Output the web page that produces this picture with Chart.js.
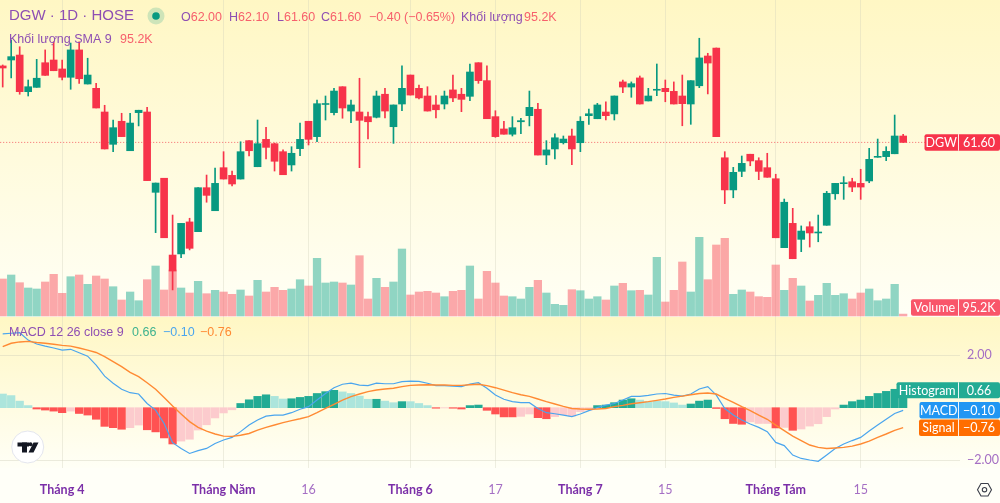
<!DOCTYPE html>
<html>
<head>
<meta charset="utf-8">
<style>html,body{margin:0;padding:0;background:#fffff8}canvas{display:block}</style>
<script src="https://cdn.jsdelivr.net/npm/chart.js@4"></script>
</head>
<body>
<canvas id="c" width="1000" height="503" style="width:1000px;height:503px"></canvas>
<script>
const opens=[66.38,66.75,67.06,64.77,65.04,66.58,66.75,66.19,65.67,67.38,65.25,64.98,63.5,61.48,62.92,61.08,63.46,63.5,58.48,59.36,54.56,54.63,56.63,56.02,58.77,57.33,60.02,59.54,59.31,61.71,60.08,61.79,61.52,61.02,60.19,61.21,62.92,61.96,63.97,63.46,65.08,63.56,63.5,63.21,63.17,64.61,62.58,64,65.81,64.98,64.5,63.94,64,64.88,64.61,64.48,66.58,65.46,63.21,62.44,62.11,62.89,63.27,63.67,60.81,61.19,61.58,62,61.58,63.27,63.08,63.5,63.38,65.38,65.06,65.63,64.19,64.86,64.98,64.79,64.5,64,65.14,67,67.5,60.64,58.63,59.79,60.86,60.46,60.02,59.33,55.02,56.54,55.54,56.33,55.94,56.42,58.39,59.02,59.14,59.04,59.19,60.67,60.71,60.89,62];
const highs=[66.44,68,67.58,65.5,66.79,67.38,67.89,66.75,67.81,67.88,66.86,65.29,63.92,63,63.42,63.42,63.61,63.79,59.06,59.36,57.06,56.54,56.86,58.77,59.56,60,61.02,59.81,61.64,61.71,63,62.54,61.56,61.13,61.33,62.81,62.92,64.25,64.5,64.98,65.08,64.25,65.61,63.5,64.81,64.98,63.94,66.39,65.81,65.19,65.08,64.52,64.81,65.81,64.98,66.5,66.58,66.39,63.58,62.92,63.21,63.11,64.81,64.04,61.71,62.14,62,62.44,63.21,63.69,64.04,64.13,64.5,65.5,65.38,65.75,64.98,66.5,65.5,65.38,65.81,65.46,68.11,67.17,67.5,61.02,60.04,60.75,60.86,60.64,60.92,59.61,58.06,57.48,56.38,56.64,57.06,58.54,59.04,59.46,59.36,59.92,61.23,61.81,61.33,63.31,62.1];
const lows=[65.06,65.63,64.61,64.5,65.04,65.79,66.08,65.5,64.92,65.29,65.25,63.75,61.19,61.02,61.96,61.08,62.63,59.21,55.96,55.64,52.38,54.39,54.88,56.02,57.86,57.33,59.31,58.88,59.31,60.75,60.08,60.56,59.81,59.58,59.81,60.77,61.44,61.64,63,63.31,63.11,62.83,60.02,61.81,63.13,63.13,61.54,63.58,64.56,64.31,63.56,63.13,63.69,64.14,63.52,64.21,65.29,63.08,61.92,62.11,62,62.14,62.63,60.81,60.21,60.56,61.5,60.21,61.02,62.73,63.08,63,63,64.71,64.42,64,64.19,64.52,64.14,64,62.64,62.73,65.02,64.63,61.96,57.77,58.14,59.46,60.14,59.27,59.42,55.64,55.02,54.33,54.77,55.06,55.39,56.42,58.04,58.04,58.52,58.04,59.08,60.67,60.46,60.89,61.6];
const closes=[66.25,66.96,64.77,65.08,65.61,65.79,66.08,65.67,67.38,65.58,65.81,63.75,61.19,62.52,61.96,62.81,63.61,59.21,59.06,55.64,53.56,56.54,54.98,58.77,58.29,59.04,59.31,59,61.02,61.08,61.52,61.29,60.42,59.58,60.92,61.79,61.79,64.02,64.03,64.81,63.75,63.94,62.98,62.89,64.5,63.56,63.94,64.98,64.56,64.38,63.56,63.64,64.5,64.38,64.29,66,65.46,63.08,61.96,62.11,62.52,62.96,63.79,60.81,61.13,61.89,61.81,61.19,62.92,63.39,63.94,63.27,64.5,65.06,65.27,64,64.5,64.92,64.77,64,64.02,65.46,66.88,66.56,61.96,58.63,59.73,60.29,60.44,59.79,59.42,55.64,57.86,54.33,56.06,55.94,56,58.42,59.04,59.08,58.81,58.81,60.54,60.73,61.04,62,61.6];
const volumesK=[1850,2050,1665,1400,1350,1700,2085,1135,1965,2050,1585,2000,1850,1465,800,1200,765,1815,2500,1300,2300,1400,1150,1735,1115,1285,1200,1085,1300,1000,1785,1200,1435,1285,1350,1815,1500,2885,1650,1700,1650,1550,3015,850,1885,1435,1700,3350,1050,1200,1235,1150,965,1235,1285,2500,850,2235,1650,1000,965,850,1435,1785,1150,585,535,1315,1265,850,965,800,1500,1635,1265,1285,1050,2935,700,1285,2700,1200,3935,1815,3550,3885,1085,1300,1200,965,935,2550,1285,1885,1500,750,1035,1635,1035,1115,850,1150,1350,765,850,1585,95.2];
const macdLine=[2.81,2.83,2.85,2.57,2.42,2.34,2.27,2.19,2.22,2.09,1.96,1.62,1.20,0.93,0.70,0.57,0.52,0.16,-0.09,-0.60,-1.33,-1.55,-1.74,-1.63,-1.55,-1.36,-1.23,-1.13,-0.91,-0.66,-0.47,-0.32,-0.28,-0.28,-0.19,-0.06,0.04,0.29,0.54,0.76,0.89,0.93,0.86,0.84,0.93,0.91,0.91,0.99,1.01,1.00,0.93,0.84,0.84,0.82,0.80,0.90,0.95,0.74,0.48,0.32,0.23,0.19,0.19,-0.03,-0.19,-0.23,-0.28,-0.34,-0.24,-0.11,0,0.10,0.16,0.29,0.43,0.43,0.47,0.52,0.54,0.48,0.44,0.52,0.71,0.80,0.48,-0.03,-0.28,-0.47,-0.62,-0.75,-0.91,-1.32,-1.44,-1.80,-1.93,-1.99,-2.04,-1.80,-1.55,-1.38,-1.25,-1.13,-0.89,-0.66,-0.44,-0.22,-0.10];
const signalLine=[2.32,2.45,2.50,2.52,2.48,2.45,2.41,2.37,2.34,2.27,2.19,2.10,1.94,1.75,1.56,1.34,1.18,0.95,0.70,0.39,0.06,-0.24,-0.53,-0.75,-0.89,-1.00,-1.08,-1.09,-1.05,-0.98,-0.85,-0.75,-0.66,-0.57,-0.49,-0.42,-0.34,-0.19,-0.03,0.13,0.29,0.42,0.52,0.61,0.67,0.71,0.74,0.80,0.85,0.86,0.87,0.86,0.86,0.85,0.85,0.87,0.89,0.84,0.76,0.67,0.57,0.49,0.43,0.33,0.23,0.14,0.05,-0.03,-0.05,-0.06,-0.05,-0.03,0.04,0.09,0.15,0.19,0.23,0.28,0.33,0.39,0.44,0.49,0.54,0.56,0.52,0.35,0.20,0.04,-0.11,-0.28,-0.44,-0.66,-0.87,-1.08,-1.25,-1.42,-1.51,-1.55,-1.53,-1.51,-1.46,-1.38,-1.27,-1.13,-1.00,-0.86,-0.76];
const histogram=[0.52,0.46,0.25,0.08,-0.05,-0.09,-0.13,-0.19,-0.13,-0.22,-0.28,-0.44,-0.71,-0.76,-0.82,-0.76,-0.66,-0.84,-0.92,-1.15,-1.38,-1.27,-1.20,-0.85,-0.65,-0.39,-0.20,-0.08,0.16,0.30,0.43,0.49,0.43,0.33,0.34,0.39,0.43,0.54,0.61,0.66,0.60,0.54,0.44,0.32,0.32,0.25,0.19,0.23,0.23,0.16,0.08,-0.02,-0.01,-0.02,-0.05,0.08,0.10,-0.10,-0.24,-0.35,-0.35,-0.33,-0.24,-0.38,-0.42,-0.34,-0.27,-0.32,-0.15,-0.09,0.08,0.10,0.19,0.29,0.34,0.29,0.23,0.25,0.23,0.18,0.10,0.14,0.25,0.29,-0.03,-0.42,-0.60,-0.63,-0.54,-0.60,-0.60,-0.77,-0.75,-0.86,-0.81,-0.70,-0.61,-0.34,-0.05,0.10,0.23,0.29,0.43,0.54,0.62,0.70,0.66];
const histTones=["L","L","L","L","R","R","R","R","P","R","R","R","R","R","R","P","P","R","R","R","R","P","P","P","P","P","P","P","D","D","D","D","L","L","D","D","D","D","D","D","L","L","L","L","D","L","L","D","L","L","L","R","P","R","R","D","D","R","R","R","R","P","P","R","R","P","P","P","P","P","D","D","D","D","D","L","L","L","L","L","L","D","D","D","R","R","R","R","P","P","P","R","P","R","P","P","P","P","P","D","D","D","D","D","D","D","D"];
const tickIndex=[7,26,36,48,58,68,78,91,101];
const tickLabels=["Tháng 4","Tháng Năm","16","Tháng 6","17","Tháng 7","15","Tháng Tám","15"];
const macdTicks=[-2,2];

const RED="#f7334a",GREEN="#089981";
const VOL_RED="rgba(247,82,95,0.5)",VOL_GREEN="rgba(34,171,148,0.5)";
const TONE={L:"#ace5dc",D:"#22ab94",R:"#ff5252",P:"#fccbcd"};
const PURPLE="#8e4fb3",SALMON="#f7606c";
const SANS='"Liberation Sans",Arial,sans-serif',TICK='Lato,"Noto Sans",sans-serif';

const isUp=i=>closes[i]>=opens[i];
const bodyData=opens.map((o,i)=>({x:i,y:[o,closes[i]]}));
const wickData=lows.map((l,i)=>({x:i,y:[l,highs[i]]}));
const volData=volumesK.map((v,i)=>({x:i,y:v}));
const histData=histogram.map((v,i)=>({x:i,y:v}));
const macdData=macdLine.map((v,i)=>({x:i,y:v}));
const sigData=signalLine.map((v,i)=>({x:i,y:v}));
const candleColors=opens.map((o,i)=>isUp(i)?GREEN:RED);
const lastClose=closes[closes.length-1];

function tag(ctx,left,mid,cy,h,color,a,b){
  const right=1000;
  ctx.fillStyle=color;
  ctx.beginPath();ctx.roundRect(left,cy-h/2,right-left,h,2);ctx.fill();
  ctx.fillStyle="rgba(255,255,255,0.9)";ctx.fillRect(mid,cy-h/2,1,h);
  ctx.fillStyle="#fff";ctx.font='12.5px '+TICK;ctx.textAlign="center";ctx.textBaseline="middle";
  ctx.fillText(a,(left+mid)/2,cy+0.5);ctx.fillText(b,(mid+right)/2,cy+0.5);
}
function txt(ctx,s,x,y,color,font){ctx.fillStyle=color;ctx.font=font;ctx.textAlign="left";ctx.textBaseline="middle";ctx.fillText(s,x,y);}

const paint={id:"paint",
 beforeDraw(ch){
  const c=ch.ctx;
  const panes=[[0,317],[317,468]];
  c.fillStyle="#fffff8";c.fillRect(0,0,1000,503);
  panes.forEach(([a,b])=>{const g=c.createLinearGradient(0,a,0,b);g.addColorStop(0,"#fff7c4");g.addColorStop(1,"#fffff6");c.fillStyle=g;c.fillRect(0,a,1000,b-a);});
 },
 afterDraw(ch){
  const c=ch.ctx;c.save();
  const F13='12.5px '+SANS;
  txt(c,"DGW · 1D · HOSE",9,16,PURPLE,'15px '+SANS);
  c.fillStyle="rgba(8,153,129,0.2)";c.beginPath();c.arc(156,16,8.5,0,7);c.fill();
  c.fillStyle=GREEN;c.beginPath();c.arc(156,16,3.8,0,7);c.fill();
  const o=opens.at(-1),h=highs.at(-1),l=lows.at(-1);
  [["O",181,o],["H",229,h],["L",277,l],["C",321,lastClose]].forEach(([k,x,v])=>{
    txt(c,k,x,18,PURPLE,F13);txt(c,v.toFixed(2),x+c.measureText(k).width,18,SALMON,F13);});
  txt(c,"−0.40",369,18,SALMON,F13);txt(c,"(−0.65%)",404,18,SALMON,F13);
  txt(c,"Khối lượng",461,18,PURPLE,F13);txt(c,"95.2K",524,18,SALMON,F13);
  txt(c,"Khối lượng SMA 9",9,40,PURPLE,F13);txt(c,"95.2K",120,40,SALMON,F13);
  txt(c,"MACD 12 26 close 9",9,333,PURPLE,F13);
  txt(c,"0.66",132,333,"#3fb28f",F13);txt(c,"−0.10",163,333,"#4aa5ee",F13);txt(c,"−0.76",200,333,"#ff8a33",F13);

  const sp=ch.scales.yPrice,sv=ch.scales.yVol,sm=ch.scales.yMacd;
  tag(c,924.5,958,sp.getPixelForValue(lastClose),16.5,RED,"DGW",lastClose.toFixed(2));
  tag(c,911,958,sv.getPixelForValue(0)-8.4,16.5,"#f9566a","Volume","95.2K");
  const hy=sm.getPixelForValue(histogram.at(-1)),my=sm.getPixelForValue(macdLine.at(-1)),gy=sm.getPixelForValue(signalLine.at(-1));
  tag(c,896.5,958,hy,16,"#22ab94","Histogram","0.66");
  tag(c,919.5,958,my,16.5,"#2196f3","MACD","−0.10");
  tag(c,919,958,gy,16.5,"#ff6d00","Signal","−0.76");

  c.fillStyle="#fff";c.strokeStyle="#e4e6ee";c.lineWidth=1;
  c.beginPath();c.arc(27.7,447,16,0,7);c.fill();c.stroke();
  c.fillStyle="#131722";
  c.fillRect(17.5,442.5,11.5,4);c.fillRect(22,442.5,5,10);
  c.beginPath();c.arc(30.5,444.3,2,0,7);c.fill();
  c.beginPath();c.moveTo(33.5,442.5);c.lineTo(38.5,442.5);c.lineTo(33.5,452.5);c.lineTo(28.5,452.5);c.closePath();c.fill();
  c.strokeStyle="#3c3f4a";c.lineWidth=1.1;c.beginPath();
  [[977.5,489.7],[981,483.5],[988,483.5],[991.5,489.7],[988,496],[981,496]].forEach((p,i)=>i?c.lineTo(p[0],p[1]):c.moveTo(p[0],p[1]));
  c.closePath();c.stroke();
  c.beginPath();c.arc(984.5,489.7,2.2,0,7);c.stroke();
  c.restore();
 }
};
const noPad=s=>{s.paddingLeft=0;s.paddingRight=0;s.paddingTop=0;s.paddingBottom=0;};

new Chart(document.getElementById("c"),{
 type:"bar",
 plugins:[paint],
 data:{datasets:[
  {type:"bar",label:"Volume",data:volData,yAxisID:"yVol",xAxisID:"x",grouped:false,barThickness:7.6,backgroundColor:opens.map((o,i)=>isUp(i)?VOL_GREEN:VOL_RED),borderWidth:0,order:6},
  {type:"bar",label:"Histogram",data:histData,yAxisID:"yMacd",xAxisID:"x",grouped:false,barThickness:7.6,backgroundColor:histTones.map(t=>TONE[t]),borderWidth:0,order:5},
  {type:"line",label:"Signal",data:sigData,yAxisID:"yMacd",xAxisID:"x",borderColor:"#ff8a33",borderWidth:1.4,pointRadius:0,tension:0,order:3},
  {type:"line",label:"MACD",data:macdData,yAxisID:"yMacd",xAxisID:"x",borderColor:"#4aa5ee",borderWidth:1.2,pointRadius:0,tension:0,order:4},
  {type:"line",label:"Last",data:[{x:-1,y:lastClose},{x:120,y:lastClose}],yAxisID:"yPrice",xAxisID:"x",borderColor:"rgba(242,54,69,0.75)",borderWidth:1,borderDash:[1,2],pointRadius:0,order:2.5},
  {type:"bar",label:"Wick",data:wickData,yAxisID:"yPrice",xAxisID:"x",grouped:false,barThickness:1,backgroundColor:candleColors,borderWidth:0,order:2},
  {type:"bar",label:"Body",data:bodyData,yAxisID:"yPrice",xAxisID:"x",grouped:false,barThickness:7,backgroundColor:candleColors,borderWidth:0,order:1}
 ]},
 options:{
  responsive:false,animation:false,devicePixelRatio:1,
  layout:{padding:0},
  plugins:{legend:{display:false},tooltip:{enabled:false}},
  scales:{
   x:{type:"linear",offset:false,bounds:"data",min:-0.318,max:112.69,position:"bottom",
      afterBuildTicks:s=>{s.ticks=tickIndex.map(v=>({value:v}));},
      afterFit:s=>{s.height=35;noPad(s);},
      border:{display:false},
      grid:{offset:false,color:"rgba(205,205,185,0.35)",lineWidth:1,drawTicks:false},
      ticks:{autoSkip:false,maxRotation:0,minRotation:0,padding:14,
        callback:v=>tickLabels[tickIndex.indexOf(v)],
        color:c=>/^Th/.test(tickLabels[c.index])?"#7b2fa8":"#a56fc4",
        font:c=>({family:TICK,size:12.5,weight:/^Th/.test(tickLabels[c.index])?"700":"400"})}},
   yMacd:{type:"linear",position:"right",bounds:"data",min:-2.293,max:15.5,
      afterBuildTicks:s=>{s.ticks=macdTicks.map(v=>({value:v}));},
      afterFit:s=>{s.width=40;noPad(s);},
      border:{display:false},
      grid:{color:"rgba(205,205,185,0.4)",drawTicks:false},
      ticks:{padding:7,color:"#a56fc4",font:{family:TICK,size:12.5},
        callback:v=>(v<0?"−":"")+Math.abs(v).toFixed(2)}},
   yPrice:{type:"linear",display:false,position:"right",bounds:"data",min:41.25,max:70.5},
   yVol:{type:"linear",display:false,position:"right",bounds:"data",min:-7600,max:15800}
  }
 }
});
</script>
</body>
</html>
